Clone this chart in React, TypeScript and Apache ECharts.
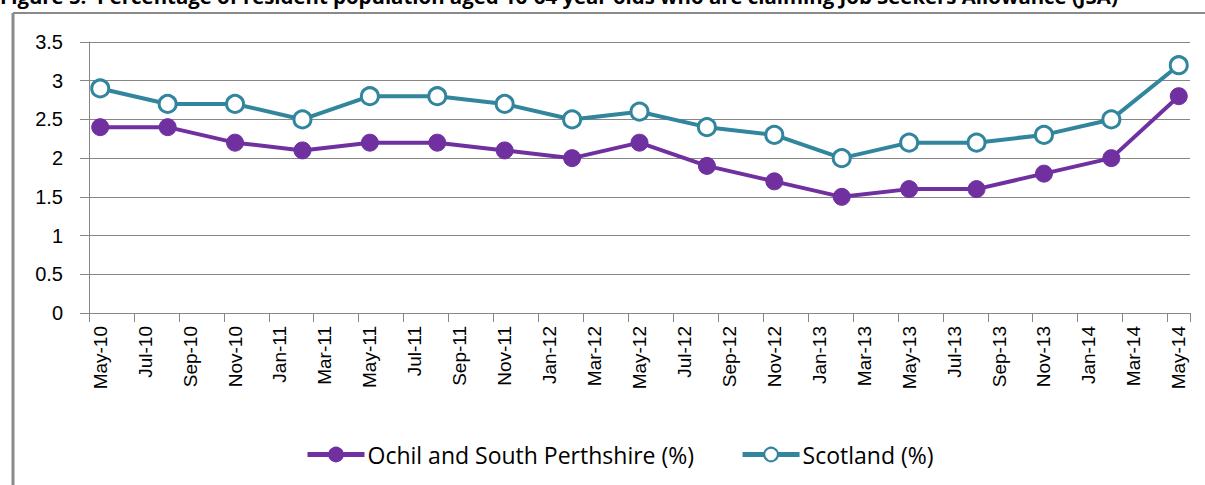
import React, { useEffect, useRef } from "react";
import * as echarts from "echarts";

const TITLE =
  "Figure 5:  Percentage of resident population aged 16-64 year olds who are claiming Job Seekers Allowance (JSA)";

const MONTH_NAMES = ["Jan", "Feb", "Mar", "Apr", "May", "Jun", "Jul", "Aug", "Sep", "Oct", "Nov", "Dec"];
// axis runs monthly from May-10 to May-14
const AXIS_START = { month: 4, year: 2010 };
const AXIS_MONTH_COUNT = 49;

const DATES = [
  "May-10", "Aug-10", "Nov-10", "Feb-11", "May-11", "Aug-11", "Nov-11", "Feb-12", "May-12",
  "Aug-12", "Nov-12", "Feb-13", "May-13", "Aug-13", "Nov-13", "Feb-14", "May-14",
];
const OCHIL = [2.4, 2.4, 2.2, 2.1, 2.2, 2.2, 2.1, 2.0, 2.2, 1.9, 1.7, 1.5, 1.6, 1.6, 1.8, 2.0, 2.8];
const SCOTLAND = [2.9, 2.7, 2.7, 2.5, 2.8, 2.8, 2.7, 2.5, 2.6, 2.4, 2.3, 2.0, 2.2, 2.2, 2.3, 2.5, 3.2];

const SERIES_NAMES = ["Ochil and South Perthshire (%)", "Scotland (%)"];

function buildMonths(): string[] {
  const out: string[] = [];
  for (let i = 0; i < AXIS_MONTH_COUNT; i++) {
    const m = (AXIS_START.month + i) % 12;
    const y = AXIS_START.year + Math.floor((AXIS_START.month + i) / 12);
    out.push(MONTH_NAMES[m] + "-" + String(y % 100).padStart(2, "0"));
  }
  return out;
}

export default function App() {
  const ref = useRef<HTMLDivElement>(null);
  useEffect(() => {
    if (!ref.current) return;
    const chart = echarts.init(ref.current, undefined, { renderer: "svg" });
    const months = buildMonths();
    const grey = "#868686";
    chart.setOption({
      animation: false,
      backgroundColor: "#ffffff",
      grid: { left: 89, right: 15, top: 42, bottom: 172, containLabel: false },
      legend: {
        left: 300,
        top: 438,
        itemWidth: 57,
        itemHeight: 17,
        itemGap: 46,
        lineStyle: { width: 5 },
        textStyle: { fontFamily: "Open Sans", fontSize: 23, color: "#000", padding: [0, 0, 0, -2] },
        data: SERIES_NAMES,
      },
      xAxis: {
        type: "category",
        data: months,
        boundaryGap: true,
        axisLine: { lineStyle: { color: grey, width: 1 } },
        axisTick: { show: true, interval: 1, length: 9, lineStyle: { color: grey } },
        axisLabel: {
          interval: 1,
          rotate: 90,
          margin: 13,
          fontFamily: "Liberation Sans",
          fontSize: 19,
          color: "#000",
        },
        splitLine: { show: false },
      },
      yAxis: {
        type: "value",
        min: 0,
        max: 3.5,
        interval: 0.5,
        axisLine: { show: true, lineStyle: { color: grey, width: 1 } },
        axisTick: { show: true, length: 9, lineStyle: { color: grey } },
        axisLabel: {
          margin: 26,
          fontFamily: "Liberation Sans",
          fontSize: 20,
          color: "#000",
        },
        splitLine: { show: true, lineStyle: { color: grey, width: 1 } },
      },
      series: [
        {
          name: SERIES_NAMES[0],
          type: "line",
          data: DATES.map((d, i) => [d, OCHIL[i]]),
          symbol: "circle",
          symbolSize: 17,
          showAllSymbol: true,
          lineStyle: { color: "#7030A0", width: 4 },
          itemStyle: { color: "#7030A0", borderColor: "#7030A0", borderWidth: 1 },
          z: 2,
        },
        {
          name: SERIES_NAMES[1],
          type: "line",
          data: DATES.map((d, i) => [d, SCOTLAND[i]]),
          symbol: "circle",
          symbolSize: 17,
          showAllSymbol: true,
          lineStyle: { color: "#31859C", width: 4 },
          itemStyle: { color: "#ffffff", borderColor: "#31859C", borderWidth: 3 },
          z: 3,
        },
      ],
      graphic: [
        {
          type: "text",
          left: 0,
          top: -14,
          style: {
            text: TITLE,
            fontFamily: "Open Sans",
            fontWeight: "bold",
            fontSize: 20.4,
            fill: "#000",
          },
        },
        {
          type: "line",
          shape: { x1: 13, y1: 13, x2: 1205, y2: 13 },
          style: { stroke: "#8a8a8a", lineWidth: 2 },
        },
        {
          type: "line",
          shape: { x1: 13, y1: 13, x2: 13, y2: 485 },
          style: { stroke: "#8a8a8a", lineWidth: 3 },
        },
      ],
    });
    return () => chart.dispose();
  }, []);
  return (
    <div
      ref={ref}
      style={{ position: "fixed", left: 0, top: 0, width: 1205, height: 485, background: "#fff" }}
    />
  );
}
